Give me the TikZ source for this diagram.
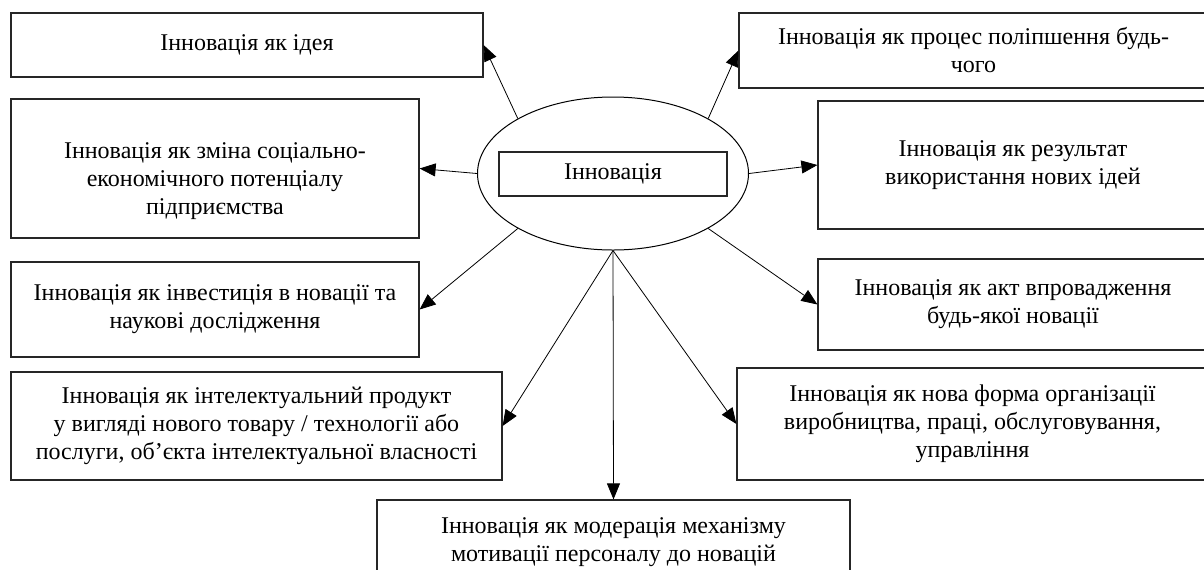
\documentclass[tikz,border=0pt]{standalone}
\usepackage{fontspec}
\setmainfont{Liberation Serif}
\usetikzlibrary{arrows.meta,shapes.geometric}
\tikzset{main base/.style={draw=black!85,line width=0.6pt,align=center,inner sep=2pt,
    font=\fontsize{12pt}{14pt}\selectfont}, }
\tikzset{main node/.style 2 args={rectangle,main base,minimum width=#1,minimum height=#2}, }
\tikzset{main ell/.style={ellipse,draw,line width=0.5pt,inner sep=0pt,
    minimum width=135.5pt,minimum height=76.5pt}, }
\tikzset{linea/.style={-{Triangle[length=8pt,width=6.5pt]},line width=0.4pt,draw}}

\begin{document}
\begin{tikzpicture}[x=0.5pt,y=-0.5pt]
  \path[use as bounding box] (0,0) rectangle (1204,569);
  \clip (0,0) rectangle (1204,569);
%
  \node[main ell] (ell) at (613,173.5) {};
  \node[main node={114pt}{22pt}] (innov) at (613,174) {Інновація};
%  left column
  \node[main node={236pt}{32pt}] (idea) at (247,45) {Інновація як ідея};
  \node[main node={204pt}{69.5pt}] (zmina) at (215,168.5)
    {\raisebox{-9pt}[0pt][0pt]{\begin{tabular}{@{}c@{}}Інновація як зміна соціально-\\
      економічного потенціалу\\підприємства\end{tabular}}};
  \node[main node={204pt}{47.5pt}] (invest) at (215,309.5)
    {Інновація як інвестиція в новації та\\наукові дослідження};
  \node[main node={245.5pt}{54pt}] (intel) at (256.5,426)
    {Інновація як інтелектуальний продукт\\у вигляді нового товару / технології або\\послуги, об’єкта інтелектуальної власності};
%  bottom
  \node[main node={236.5pt}{42.5pt}] (moder) at (613.5,542.5)
    {Інновація як модерація механізму\\мотивації персоналу до новацій};
%  right column
  \node[main node={234.5pt}{37.5pt}] (proces) at (973.5,50.5)
    {Інновація як процес поліпшення будь-\\чого};
  \node[main node={195pt}{64pt}] (rezult) at (1013,165)
    {Інновація як результат\\використання нових ідей};
  \node[main node={195pt}{45.5pt}] (akt) at (1013,304.5)
    {Інновація як акт впровадження\\будь-якої новації};
  \node[main node={235.5pt}{56pt}] (nova) at (972.5,424)
    {Інновація як нова форма організації\\виробництва, праці, обслуговування,\\управління};
%
\foreach \x /\y in {150/idea.east,180/zmina.east,210/invest.east,270/intel.east,
    270/moder.north,270/nova.west,330/akt.west,0/rezult.west,30/proces.west}
  \path[linea] (ell.\x) -- (\y);
%
\end{tikzpicture}
\end{document}
